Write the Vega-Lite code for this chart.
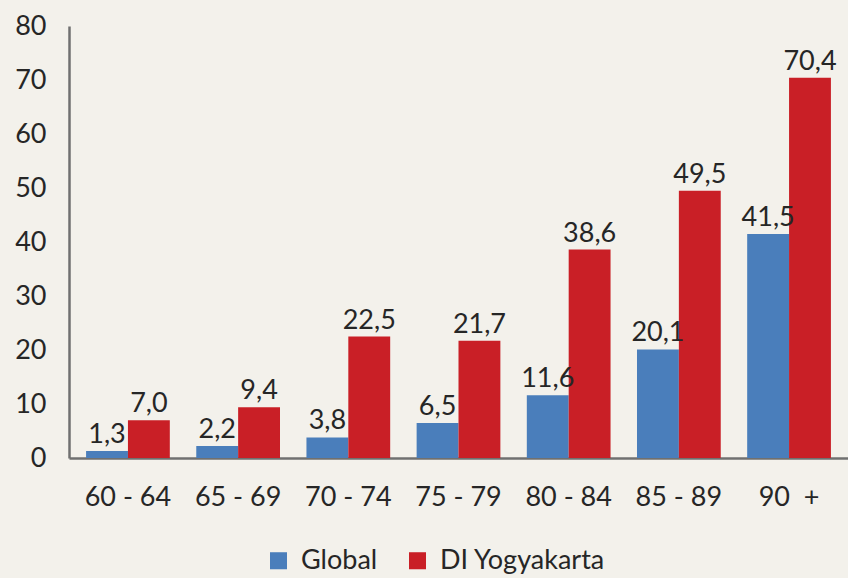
{
  "$schema": "https://vega.github.io/schema/vega-lite/v6.json",
  "width": 779,
  "height": 432,
  "autosize": "none",
  "padding": {"left": 69, "top": 26, "right": 0, "bottom": 120},
  "background": "#f3f1eb",
  "config": {
    "view": {"stroke": null},
    "font": "Lato",
    "locale": {"number": {"decimal": ",", "thousands": ".", "grouping": [3], "currency": ["", ""]}}
  },
  "data": {
    "values": [
      {"age": "60 - 64", "series": "Global", "value": 1.3},
      {"age": "60 - 64", "series": "DI Yogyakarta", "value": 7.0},
      {"age": "65 - 69", "series": "Global", "value": 2.2},
      {"age": "65 - 69", "series": "DI Yogyakarta", "value": 9.4},
      {"age": "70 - 74", "series": "Global", "value": 3.8},
      {"age": "70 - 74", "series": "DI Yogyakarta", "value": 22.5},
      {"age": "75 - 79", "series": "Global", "value": 6.5},
      {"age": "75 - 79", "series": "DI Yogyakarta", "value": 21.7},
      {"age": "80 - 84", "series": "Global", "value": 11.6},
      {"age": "80 - 84", "series": "DI Yogyakarta", "value": 38.6},
      {"age": "85 - 89", "series": "Global", "value": 20.1},
      {"age": "85 - 89", "series": "DI Yogyakarta", "value": 49.5},
      {"age": "90\u00a0 +", "series": "Global", "value": 41.5},
      {"age": "90\u00a0 +", "series": "DI Yogyakarta", "value": 70.4}
    ]
  },
  "encoding": {
    "x": {
      "field": "age", "type": "nominal", "sort": null,
      "scale": {"paddingInner": 0.24, "paddingOuter": 0.155},
      "axis": {
        "title": null, "labelAngle": 0, "labelFontSize": 27, "labelColor": "#262626",
        "labelPadding": 26, "ticks": false, "domainColor": "#707070", "domainWidth": 2.5
      }
    },
    "xOffset": {"field": "series", "type": "nominal", "sort": ["Global", "DI Yogyakarta"], "scale": {"paddingInner": 0, "paddingOuter": 0}},
    "y": {
      "field": "value", "type": "quantitative",
      "scale": {"domain": [0, 80], "nice": false},
      "axis": {
        "title": null, "values": [0, 10, 20, 30, 40, 50, 60, 70, 80], "format": "d", "labelFontSize": 27, "labelColor": "#262626",
        "labelPadding": 23, "ticks": false, "grid": false, "domainColor": "#707070", "domainWidth": 2.5
      }
    }
  },
  "layer": [
    {
      "mark": {"type": "bar"},
      "encoding": {
        "color": {
          "field": "series", "type": "nominal", "sort": ["Global", "DI Yogyakarta"],
          "scale": {"domain": ["Global", "DI Yogyakarta"], "range": ["#4a7ebb", "#c91f26"]},
          "legend": {
            "title": null, "orient": "none", "direction": "horizontal", "legendX": 196, "legendY": 521,
            "symbolType": "square", "symbolSize": 290, "symbolStrokeWidth": 0, "symbolOpacity": 1,
            "labelFontSize": 27, "labelColor": "#262626", "labelOffset": 9, "columnPadding": 26, "labelLimit": 400
          }
        }
      }
    },
    {
      "mark": {"type": "text", "fontSize": 27, "color": "#262626", "baseline": "alphabetic", "dy": -8},
      "encoding": {
        "text": {"field": "value", "type": "quantitative", "format": ".1f"}
      }
    }
  ]
}
